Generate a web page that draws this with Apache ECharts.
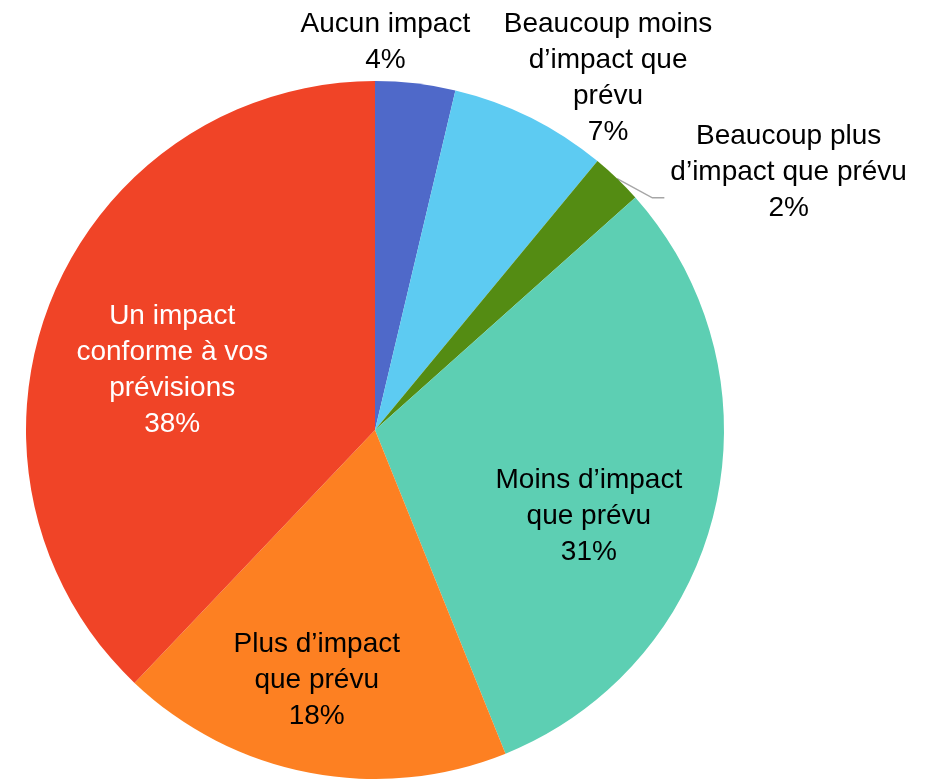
<!DOCTYPE html>
<html>
<head>
<meta charset="utf-8">
<script src="https://cdn.jsdelivr.net/npm/echarts@6/dist/echarts.min.js"></script>
<style>
html,body{margin:0;padding:0;background:#fff;}
#chart{width:943px;height:779px;}
</style>
</head>
<body>
<div id="chart"></div>
<script>
// Data
const categories = [
  "Aucun impact",
  "Beaucoup moins\nd\u2019impact que\nprévu",
  "Beaucoup plus\nd\u2019impact que prévu",
  "Moins d\u2019impact\nque prévu",
  "Plus d\u2019impact\nque prévu",
  "Un impact\nconforme à vos\nprévisions"
];
const values = [3.7, 7.3, 2.4, 30.5, 18.2, 37.9];
const percentLabels = ["4%", "7%", "2%", "31%", "18%", "38%"];

// Styles
const colors = ["#4F69C9", "#5DCBF2", "#548C13", "#5DCFB3", "#FD8022", "#F04427"];
const labelColors = ["#000", "#000", "#000", "#000", "#000", "#fff"];
const labelPositions = ["outside", "outside", "outside", "inside", "inside", "inside"];
const labelShift = [[-66, -33], [39, -32], [131, -1], [41, 46], [-25, 76], [-38, 6]];
const showLine = [false, false, true, false, false, false];

const chart = echarts.init(document.getElementById('chart'), null, {renderer: 'canvas'});
const data = values.map((v, i) => ({
  name: categories[i],
  value: v,
  itemStyle: {color: colors[i]},
  label: {position: labelPositions[i], color: labelColors[i]},
  labelLine: {show: showLine[i], length: 8, length2: 30, lineStyle: {color: '#A6A6A6', width: 1.5}}
}));

chart.setOption({
  animation: false,
  series: [{
    type: 'pie',
    center: [375, 430],
    radius: [0, 349],
    startAngle: 90,
    clockwise: true,
    avoidLabelOverlap: false,
    data: data,
    label: {
      fontFamily: 'Liberation Sans, Arial, sans-serif',
      fontSize: 28,
      lineHeight: 36,
      align: 'center',
      overflow: 'none',
      formatter: p => p.name + "\n" + percentLabels[p.dataIndex]
    },
    labelLayout: function (p) {
      const i = p.dataIndex;
      const s = labelShift[i];
      const out = {align: 'center', verticalAlign: 'middle', dx: s[0], dy: s[1]};
      if (showLine[i] && p.labelLinePoints && p.labelRect) {
        const r = p.labelRect;
        const left = r.x + s[0] - r.width / 2;
        const cy = r.y + r.height / 2 + s[1];
        const start = p.labelLinePoints[0];
        const end = [left - 6, cy + 26];
        const mid = [end[0] - 12, end[1]];
        out.labelLinePoints = [start, mid, end];
      }
      return out;
    },
    emphasis: {disabled: true}
  }]
});
</script>
</body>
</html>
